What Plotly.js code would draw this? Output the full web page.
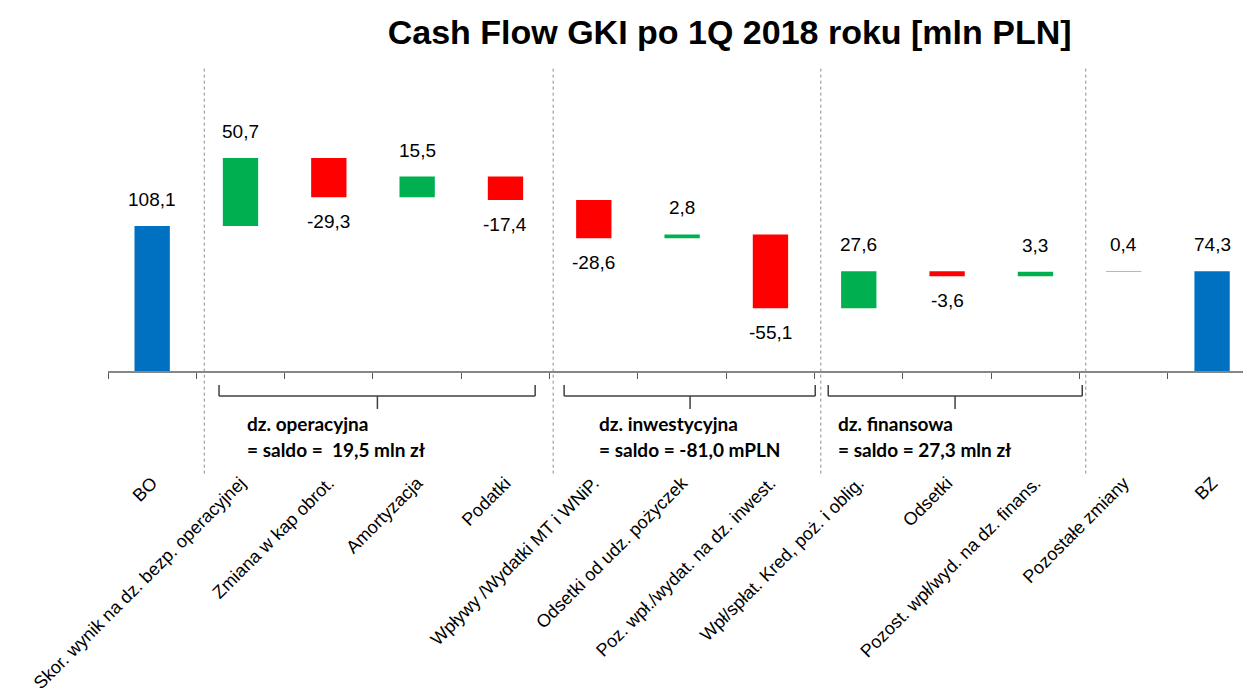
<!DOCTYPE html>
<html>
<head>
<meta charset="utf-8">
<script src="https://cdn.plot.ly/plotly-3.0.1.min.js"></script>
<style>
  body { margin: 0; background: #fff; }
  #plot { width: 1243px; height: 688px; }
</style>
</head>
<body>
<div id="plot"></div>
<script>
// Categories (x axis)
let categories = ["BO", "Skor. wynik na dz. bezp. operacyjnej", "Zmiana w kap obrot.", "Amortyzacja",
    "Podatki", "Wpływy /Wydatki MT i WNiP.", "Odsetki od udz. pożyczek", "Poz. wpł./wydat. na dz. inwest.",
    "Wpł/spłat. Kred, poż. i oblig.", "Odsetki", "Pozost. wpł/wyd. na dz. finans.", "Pozostałe zmiany", "BZ"]

// Values in mln PLN
let values = [108.1, 50.7, -29.3, 15.5, -17.4, -28.6, 2.8, -55.1, 27.6, -3.6, 3.3, 0.4, 74.3]
let measures = ["absolute", "relative", "relative", "relative", "relative", "relative", "relative",
    "relative", "relative", "relative", "relative", "relative", "absolute"]

// Section labels under the axis
let groupNames = ["dz. operacyjna", "dz. inwestycyjna", "dz. finansowa"]
let groupSaldo = ["= saldo =  19,5 mln zł", "= saldo = -81,0 mPLN", "= saldo = 27,3 mln zł"]

let trace = {
    type: "waterfall",
    x: categories,
    y: values,
    measure: measures,
    textinfo: "none",
    hoverinfo: "none",
    connector: {visible: false},
    increasing: {marker: {color: "#00B050"}},
    decreasing: {marker: {color: "#FF0000"}},
    totals: {marker: {color: "#0070C0"}}
}

// value labels above / below the bars
let labelFont = {family: "Liberation Sans, Arial, sans-serif", size: 19, color: "#000"}
let annotations = []
let total = 0
for (let i = 0; i < values.length; i++) {
    let v = values[i]
    let txt = v.toFixed(1).replace(".", ",")
    let y, up
    if (measures[i] == "absolute") {
        total = v
        y = v
        up = true
    } else {
        let prev = total
        total = total + v
        up = v >= 0
        y = up ? Math.max(prev, total) : Math.min(prev, total)
    }
    annotations.push({
        x: categories[i], y: y, xref: "x", yref: "y",
        text: txt, showarrow: false, font: labelFont,
        yanchor: up ? "bottom" : "top",
        yshift: up ? 14 : -12
    })
}

// section texts
let groupX = [1.05, 5.04, 7.745]
let groupFont = {family: "Lato, Open Sans, sans-serif", size: 19, color: "#000"}
for (let g = 0; g < groupNames.length; g++) {
    annotations.push({x: groupX[g], y: -0.170, xref: "x", yref: "paper", xanchor: "left", yanchor: "middle",
        text: "<b>" + groupNames[g] + "</b>", showarrow: false, font: groupFont})
    annotations.push({x: groupX[g], y: -0.254, xref: "x", yref: "paper", xanchor: "left", yanchor: "middle",
        text: "<b>" + groupSaldo[g] + "</b>", showarrow: false, font: groupFont})
}

// dotted separators and brackets
let shapes = []
let sepX = [0.59, 4.54, 7.57, 10.57]
sepX.forEach(function (sx) {
    shapes.push({type: "line", xref: "x", yref: "paper", x0: sx, x1: sx, y0: -0.33, y1: 0.975,
        line: {color: "#8C8C8C", width: 1, dash: "dot"}})
})
let brackets = [[0.757, 4.336, 2.55], [4.664, 7.507, 6.09], [7.654, 10.53, 9.09]]
let bLine = {color: "#404040", width: 1.5}
brackets.forEach(function (b) {
    shapes.push({type: "line", xref: "x", yref: "paper", x0: b[0], x1: b[0], y0: -0.045, y1: -0.080, line: bLine})
    shapes.push({type: "line", xref: "x", yref: "paper", x0: b[1], x1: b[1], y0: -0.045, y1: -0.080, line: bLine})
    shapes.push({type: "line", xref: "x", yref: "paper", x0: b[0], x1: b[1], y0: -0.080, y1: -0.080, line: bLine})
    shapes.push({type: "line", xref: "x", yref: "paper", x0: b[2], x1: b[2], y0: -0.080, y1: -0.122, line: bLine})
})

let layout = {
    width: 1243,
    height: 688,
    margin: {l: 108, r: 0, t: 60, b: 317},
    paper_bgcolor: "#fff",
    plot_bgcolor: "#fff",
    showlegend: false,
    waterfallgap: 0.6,
    title: {
        text: "<b>Cash Flow GKI po 1Q 2018 roku [mln PLN]</b>",
        font: {family: "Liberation Sans, Arial, sans-serif", size: 34, color: "#000"},
        xref: "container", yref: "container",
        x: 0.587, xanchor: "center", y: 0.954, yanchor: "middle"
    },
    xaxis: {
        type: "category",
        range: [-0.5, 12.35],
        showline: true,
        linecolor: "#868686",
        linewidth: 1.5,
        ticks: "outside",
        tickson: "boundaries",
        ticklen: 6,
        tickcolor: "#555",
        tickangle: -45,
        ticklabelstandoff: 93,
        tickfont: {family: "Liberation Sans, Arial, sans-serif", size: 18, color: "#000"},
        showgrid: false,
        fixedrange: true
    },
    yaxis: {
        range: [0, 231.9],
        visible: false,
        showgrid: false,
        zeroline: false,
        fixedrange: true
    },
    annotations: annotations,
    shapes: shapes
}

Plotly.newPlot("plot", [trace], layout, {displayModeBar: false, staticPlot: true})
</script>
</body>
</html>
